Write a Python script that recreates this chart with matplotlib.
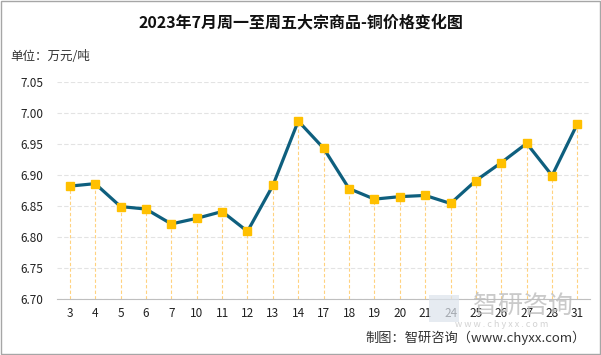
import numpy as np
import matplotlib.pyplot as plt

plt.rcParams['font.family'] = ['Noto Sans CJK SC', 'DejaVu Sans']

days = ["3", "4", "5", "6", "7", "10", "11", "12", "13", "14", "17",
        "18", "19", "20", "21", "24", "25", "26", "27", "28", "31"]
prices = [6.882, 6.886, 6.849, 6.845, 6.821, 6.830, 6.841, 6.809, 6.883, 6.987, 6.943,
          6.878, 6.861, 6.865, 6.867, 6.854, 6.891, 6.920, 6.951, 6.899, 6.983]
yticks = [6.70, 6.75, 6.80, 6.85, 6.90, 6.95, 7.00, 7.05]

fig = plt.figure(figsize=(6.01, 3.55), dpi=100)
ax = fig.add_axes([0.095, 0.158, 0.887, 0.611])

x = np.arange(len(days))
# 竖向虚线
ax.vlines(x, 6.70, prices, colors="#FFD27F", linestyles=(0, (3, 2)), linewidth=0.8, zorder=2)
ax.plot(x, prices, color="#0E5F7E", linewidth=2.3, zorder=3)
ax.plot(x, prices, linestyle="none", marker="s", markersize=5.5,
        markerfacecolor="#FFC000", markeredgecolor="#FFC000", zorder=4)

ax.set_xlim(-0.5, len(days) - 0.5)
ax.set_ylim(6.70, 7.05)
ax.set_yticks(yticks)
ax.set_yticklabels([f"{v:.2f}" for v in yticks])
ax.set_xticks(x)
ax.set_xticklabels(days)
ax.tick_params(axis="both", length=0, labelsize=8.5, colors="#222222")
ax.tick_params(axis="x", pad=6)
ax.tick_params(axis="y", pad=10)
ax.yaxis.grid(True, color="#E3E3E3", linestyle=(0, (4, 2)), linewidth=0.8)
for s in ["top", "right", "left"]:
    ax.spines[s].set_visible(False)
ax.spines["bottom"].set_color("#BFBFBF")

fig.text(0.5, 0.938, "2023年7月周一至周五大宗商品-铜价格变化图", ha="center", va="center",
         fontsize=11.5, fontweight="bold", color="#111111")
fig.text(0.017, 0.842, "单位：万元/吨", ha="left", va="center", fontsize=9, color="#333333")
fig.text(0.975, 0.048, "制图：智研咨询（www.chyxx.com）", ha="right", va="center",
         fontsize=9.5, color="#333333")

# 水印
fig.patches.append(plt.Rectangle((429 / 601, 1 - 322 / 355), 30 / 601, 27 / 355,
                                 transform=fig.transFigure, facecolor="#DCE3EC",
                                 edgecolor="none", alpha=0.7, zorder=0))
fig.text(0.870, 0.138, "智研咨询", ha="center", va="center", fontsize=18, color="#BDBDBD", alpha=0.8)
fig.text(0.834, 0.085, "w w w . c h y x x . c o m", ha="center", va="center", fontsize=6.5,
         color="#C8C8C8", alpha=0.8)

fig.patches.append(plt.Rectangle((0.001, 0.002), 0.997, 0.995, transform=fig.transFigure,
                                 fill=False, edgecolor="#A6A6A6", linewidth=1))

fig.savefig("out.png", dpi=100)
